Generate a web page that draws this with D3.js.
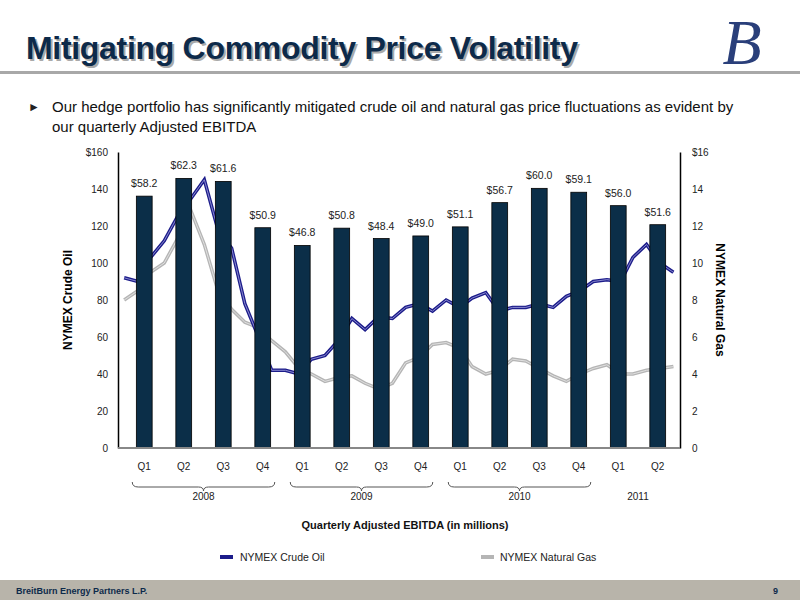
<!DOCTYPE html>
<html><head><meta charset="utf-8">
<script src="https://cdn.jsdelivr.net/npm/d3@7"></script>
<style>body{margin:0;background:#fff}svg{display:block;font-family:"Liberation Sans",Arial,sans-serif}</style>
</head><body><svg id="c" width="800" height="600"></svg>
<script>
// quarterly adjusted EBITDA ($MM)
var quarters = ["Q1","Q2","Q3","Q4","Q1","Q2","Q3","Q4","Q1","Q2","Q3","Q4","Q1","Q2"];
var ebitda = [58.2,62.3,61.6,50.9,46.8,50.8,48.4,49.0,51.1,56.7,60.0,59.1,56.0,51.6];
// monthly NYMEX prices Jan 2008 .. Jun 2011
var oil = [92,90,103,112,125,135,145,118,108,78,60,42,42,40,48,50,58,70,64,71,70,76,78,74,80,76,81,84,74,76,76,78,76,82,85,90,91,90,103,110,100,95];
var gas = [8.0,8.5,9.5,10,11.3,12.8,11,8.5,7.5,6.8,6.5,5.8,5.2,4.3,4.0,3.6,3.8,3.9,3.5,3.2,3.5,4.6,4.9,5.6,5.7,5.4,4.4,4.0,4.2,4.8,4.7,4.3,3.9,3.6,4.0,4.3,4.5,4.0,4.0,4.2,4.3,4.4];
var years = [{label:"2008",from:0,to:3,brace:true},{label:"2009",from:4,to:7,brace:true},{label:"2010",from:8,to:11,brace:true},{label:"2011",from:12,to:13,brace:false}];
var oilTicks = [0,20,40,60,80,100,120,140,160];
var gasTicks = [0,2,4,6,8,10,12,14,16];

var svg = d3.select("#c");
var L = 118, R = 680, T = 152, B = 448;

// header
var dk = "#0d2a4a";
svg.append("text").attr("x",26).attr("y",59).attr("font-size",32).attr("font-weight","bold").attr("fill",dk)
  .style("text-shadow","2px 2px 0 #aaa").attr("textLength",552).text("Mitigating Commodity Price Volatility");
svg.append("text").attr("x",742).attr("y",64).attr("font-size",64).attr("font-style","italic").attr("font-family","Liberation Serif,serif").attr("fill","#2a3f7a").attr("text-anchor","middle").text("B");
svg.append("rect").attr("x",0).attr("y",71).attr("width",800).attr("height",3).attr("fill","#a8a8a8");
svg.append("text").attr("x",28).attr("y",111).attr("font-size",12).attr("fill","#222").text("►");
svg.append("text").attr("x",52).attr("y",112).attr("font-size",15).attr("fill","#111").text("Our hedge portfolio has significantly mitigated crude oil and natural gas price fluctuations as evident by");
svg.append("text").attr("x",52).attr("y",132).attr("font-size",15).attr("fill","#111").text("our quarterly Adjusted EBITDA");

// scales
var yOil = d3.scaleLinear().domain([0,160]).range([B,T]);
var yGas = d3.scaleLinear().domain([0,16]).range([B,T]);
var yBar = d3.scaleLinear().domain([0,68.4]).range([B,T]);
var xb = d3.scaleBand().domain(d3.range(quarters.length)).range([124.5,677.5]).paddingInner(0.6).paddingOuter(0.3);
var months = oil.map(function(d,i){return new Date(2008,i,15);});
var xt = d3.scaleTime().domain([new Date(2008,0,1),new Date(2011,5,30)]).range([L,R]);

// axes
var ga = svg.append("g").attr("transform","translate("+L+",0)").call(d3.axisLeft(yOil).tickValues(oilTicks).tickSize(0).tickPadding(10).tickFormat(function(d){return d==160?"$160":d;}));
var gb = svg.append("g").attr("transform","translate("+R+",0)").call(d3.axisRight(yGas).tickValues(gasTicks).tickSize(0).tickPadding(12).tickFormat(function(d){return d==16?"$16":d;}));
[ga,gb].forEach(function(g){g.select(".domain").attr("stroke","#000").attr("stroke-width",1.5);g.selectAll("text").attr("font-size",10).attr("fill","#222").attr("font-family","Liberation Sans,Arial");});
svg.append("text").attr("transform","translate(72,300) rotate(-90)").attr("text-anchor","middle").attr("font-size",12).attr("font-weight","bold").text("NYMEX Crude Oil");
svg.append("text").attr("transform","translate(716,300) rotate(90)").attr("text-anchor","middle").attr("font-size",12).attr("font-weight","bold").text("NYMEX Natural Gas");

// lines
var lg = d3.line().x(function(d,i){return xt(months[i]);}).y(function(d){return yGas(d);});
var lo = d3.line().x(function(d,i){return xt(months[i]);}).y(function(d){return yOil(d);});
svg.append("path").attr("d",lg(gas)).attr("fill","none").attr("stroke","#b5b5b5").attr("stroke-width",3.5);
svg.append("path").attr("d",lg(gas)).attr("fill","none").attr("stroke","#e0e0e0").attr("stroke-width",1);
svg.append("path").attr("d",lo(oil)).attr("fill","none").attr("stroke","#1c1c8a").attr("stroke-width",3.5);
svg.append("path").attr("d",lo(oil)).attr("fill","none").attr("stroke","#8a8ad0").attr("stroke-width",1);

// bars
svg.selectAll("rect.bar").data(ebitda).enter().append("rect").attr("class","bar")
  .attr("x",function(d,i){return xb(i);}).attr("width",xb.bandwidth())
  .attr("y",function(d){return yBar(d);}).attr("height",function(d){return B-yBar(d);})
  .attr("fill","#0b2e48").attr("stroke","#000").attr("stroke-width",0.8);
svg.selectAll("text.lbl").data(ebitda).enter().append("text")
  .attr("x",function(d,i){return xb(i)+xb.bandwidth()/2;}).attr("y",function(d){return yBar(d)-9;})
  .attr("text-anchor","middle").attr("font-size",10.5).attr("fill","#222").text(function(d){return "$"+d.toFixed(1);});

svg.append("line").attr("x1",L).attr("x2",R).attr("y1",B).attr("y2",B).attr("stroke","#888").attr("stroke-width",2);

// quarter labels
svg.selectAll("text.q").data(quarters).enter().append("text")
  .attr("x",function(d,i){return xb(i)+xb.bandwidth()/2;}).attr("y",470).attr("text-anchor","middle").attr("font-size",10).attr("fill","#222").text(function(d){return d;});

// year braces
years.forEach(function(y){
  var a = xb(y.from)+xb.bandwidth()/2-12, b = xb(y.to)+xb.bandwidth()/2+12, m=(a+b)/2;
  if(y.brace){
    svg.append("path").attr("d","M"+a+",482 Q"+a+",487 "+(a+6)+",487 L"+(m-5)+",487 Q"+m+",487 "+m+",491 Q"+m+",487 "+(m+5)+",487 L"+(b-6)+",487 Q"+b+",487 "+b+",482")
      .attr("fill","none").attr("stroke","#555").attr("stroke-width",1);
  }
  svg.append("text").attr("x",m).attr("y",500).attr("text-anchor","middle").attr("font-size",10).attr("fill","#222").text(y.label);
});

svg.append("text").attr("x",405).attr("y",529).attr("text-anchor","middle").attr("font-size",11).attr("font-weight","bold").attr("fill","#111").text("Quarterly Adjusted EBITDA (in millions)");

// legend
svg.append("rect").attr("x",220).attr("y",555).attr("width",13).attr("height",4).attr("fill","#1c1c8a");
svg.append("text").attr("x",240).attr("y",561).attr("font-size",10.5).attr("fill","#222").text("NYMEX Crude Oil");
svg.append("rect").attr("x",481).attr("y",555).attr("width",13).attr("height",4).attr("fill","#b5b5b5");
svg.append("text").attr("x",500).attr("y",561).attr("font-size",10.5).attr("fill","#222").text("NYMEX Natural Gas");

// footer
svg.append("rect").attr("x",0).attr("y",580).attr("width",800).attr("height",20).attr("fill","#b8b4aa");
svg.append("text").attr("x",16).attr("y",594).attr("font-size",9).attr("font-weight","bold").attr("fill",dk).text("BreitBurn Energy Partners L.P.");
svg.append("text").attr("x",778).attr("y",594).attr("font-size",9).attr("font-weight","bold").attr("fill",dk).attr("text-anchor","end").text("9");
</script></body></html>
